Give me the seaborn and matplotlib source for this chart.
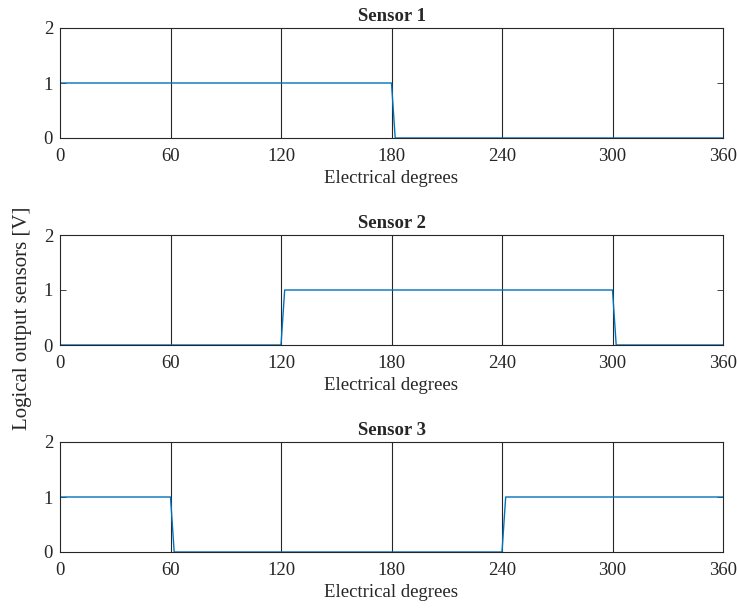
import numpy as np
import pandas as pd
import matplotlib
matplotlib.use("Agg")
import matplotlib.pyplot as plt
import seaborn as sns

# Data: breakpoints (electrical degrees) and logical levels
sensor_names = ["Sensor 1", "Sensor 2", "Sensor 3"]
s1_deg = [0, 180, 182, 360]
s1_val = [1, 1, 0, 0]
s2_deg = [0, 120, 122, 300, 302, 360]
s2_val = [0, 0, 1, 1, 0, 0]
s3_deg = [0, 60, 62, 240, 242, 360]
s3_val = [1, 1, 0, 0, 1, 1]
x_ticks = [0, 60, 120, 180, 240, 300, 360]
y_ticks = [0, 1, 2]

sns.set_style("ticks")
plt.rcParams['font.family'] = ['Liberation Serif', 'DejaVu Serif']
plt.rcParams['mathtext.fontset'] = 'stix'

fig = plt.figure(figsize=(7.37, 6.08), dpi=100)
left, width, height = 60/737, 663/737, 110/608
bottoms = [1-138/608, 1-345/608, 1-552/608]

series = [(s1_deg, s1_val), (s2_deg, s2_val), (s3_deg, s3_val)]
for name, (d, v), b in zip(sensor_names, series, bottoms):
    ax = fig.add_axes([left, b, width, height])
    df = pd.DataFrame({"deg": d, "val": v})
    sns.lineplot(data=df, x="deg", y="val", ax=ax, color="#0072BD",
                 linewidth=1.0, estimator=None, sort=False)
    ax.set_xlim(0, 360)
    ax.set_ylim(0, 2)
    ax.set_xticks(x_ticks)
    ax.set_yticks(y_ticks)
    for xt in x_ticks[1:-1]:
        ax.axvline(xt, color="#262626", linewidth=0.8, zorder=0)
    ax.tick_params(direction="in", top=True, right=True, labelsize=13.5,
                   length=4, width=0.6, colors="#262626")
    ax.tick_params(axis="x", pad=7)
    ax.tick_params(axis="y", pad=5)
    ax.tick_params(labelcolor="#262626")
    for sp in ax.spines.values():
        sp.set_visible(True)
        sp.set_color("#262626")
        sp.set_linewidth(0.8)
    ax.set_xlabel("Electrical degrees", fontsize=13.5, color="#262626", labelpad=4)
    ax.set_ylabel("")
    ax.set_title(name, fontsize=13.5, fontweight="bold", pad=5)

fig.text(0.031, 0.477, "Logical output sensors [V]", rotation=90,
         va="center", ha="center", fontsize=15, color="#262626")

fig.savefig("out.png", dpi=100)
